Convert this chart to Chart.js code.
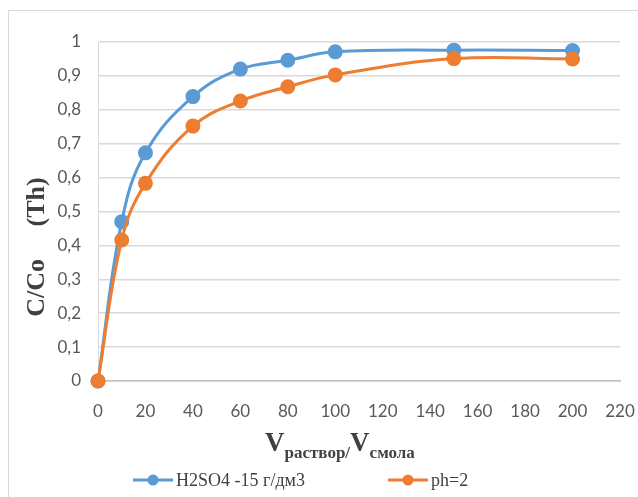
<!DOCTYPE html>
<html>
<head>
<meta charset="utf-8">
<script src="https://cdn.jsdelivr.net/npm/chart.js@4.4.1/dist/chart.umd.min.js"></script>
<style>
  html, body { margin: 0; padding: 0; background: #fff; }
</style>
</head>
<body>
<canvas id="myChart" width="638" height="497"></canvas>
<script>
// values
var xValues = [0, 10, 20, 40, 60, 80, 100, 150, 200]
var h2so4Values = [0, 0.47, 0.673, 0.839, 0.92, 0.946, 0.971, 0.976, 0.975]
var phValues = [0, 0.416, 0.583, 0.752, 0.826, 0.868, 0.903, 0.951, 0.95]
var seriesNames = ['H2SO4 -15 г/дм3', 'ph=2']
var seriesColors = ['#5B9BD5', '#ED7D31']
var yTitle = 'C/Co     (Th)'
var xTitleParts = ['V', 'раствор', '/', 'V', 'смола']

function toPoints(ys) {
    return xValues.map(function (x, i) { return { x: x, y: ys[i] } })
}

var extras = {
    id: 'extras',
    beforeDraw: function (chart) {
        var ctx = chart.ctx
        ctx.save()
        ctx.strokeStyle = '#d9d9d9'
        ctx.lineWidth = 1
        ctx.strokeRect(8.5, 10.5, 640, 500)
        ctx.restore()
    },
    afterDraw: function (chart) {
        var ctx = chart.ctx
        ctx.save()
        // y title
        ctx.fillStyle = '#404040'
        ctx.font = 'bold 26px "Liberation Serif"'
        ctx.textAlign = 'center'
        ctx.textBaseline = 'middle'
        ctx.translate(37, 247)
        ctx.rotate(-Math.PI / 2)
        ctx.fillText(yTitle, 0, 0)
        ctx.restore()

        // x title with subscripts
        ctx.save()
        ctx.fillStyle = '#404040'
        ctx.textAlign = 'left'
        ctx.textBaseline = 'alphabetic'
        var x = 265
        for (var i = 0; i < xTitleParts.length; i++) {
            var big = xTitleParts[i] == 'V'
            ctx.font = big ? 'bold 27px "Liberation Serif"' : 'bold 17px "Liberation Serif"'
            ctx.fillText(xTitleParts[i], x, big ? 451 : 458)
            x += ctx.measureText(xTitleParts[i]).width
        }
        ctx.restore()

        // legend
        ctx.save()
        ctx.font = '18px "Liberation Serif"'
        ctx.textBaseline = 'middle'
        var starts = [133, 388]
        var ly = 480
        for (var k = 0; k < seriesNames.length; k++) {
            var lx = starts[k]
            ctx.strokeStyle = seriesColors[k]
            ctx.lineWidth = 3
            ctx.beginPath()
            ctx.moveTo(lx, ly)
            ctx.lineTo(lx + 40, ly)
            ctx.stroke()
            ctx.fillStyle = seriesColors[k]
            ctx.beginPath()
            ctx.arc(lx + 20, ly, 5.5, 0, Math.PI * 2)
            ctx.fill()
            ctx.fillStyle = '#404040'
            ctx.fillText(seriesNames[k], lx + 43, ly + 1)
        }
        ctx.restore()
    }
}

var chart = new Chart('myChart', {
    type: 'line',
    data: {
        datasets: [{
            label: seriesNames[0],
            data: toPoints(h2so4Values),
            borderColor: seriesColors[0],
            backgroundColor: seriesColors[0],
            borderWidth: 3,
            pointRadius: 6,
            pointHoverRadius: 6,
            tension: 0.4,
            clip: false,
            order: 1
        }, {
            label: seriesNames[1],
            data: toPoints(phValues),
            borderColor: seriesColors[1],
            backgroundColor: seriesColors[1],
            borderWidth: 3,
            pointRadius: 6,
            pointHoverRadius: 6,
            tension: 0.4,
            clip: false,
            order: 0
        }]
    },
    options: {
        responsive: false,
        animation: false,
        layout: { padding: { top: 42, right: 0, left: 0, bottom: 0 } },
        plugins: {
            legend: { display: false },
            tooltip: { enabled: false }
        },
        scales: {
            x: {
                type: 'linear',
                min: 0,
                max: 220,
                afterFit: function (scale) {
                    scale.height = 116
                    scale.paddingLeft = 0
                    scale.paddingRight = 18
                },
                grid: { display: false, drawTicks: false },
                border: { display: true, color: '#bfbfbf', width: 1.5 },
                ticks: {
                    stepSize: 20,
                    padding: 20,
                    color: '#595959',
                    font: { family: 'Lato', size: 17 }
                }
            },
            y: {
                min: 0,
                max: 1,
                afterFit: function (scale) { scale.width = 98 },
                grid: { color: '#d9d9d9', lineWidth: 1.5, drawTicks: false },
                border: { display: true, color: '#d9d9d9', width: 1 },
                ticks: {
                    stepSize: 0.1,
                    padding: 17,
                    color: '#595959',
                    font: { family: 'Lato', size: 17 },
                    callback: function (v) {
                        return (Math.round(v * 10) / 10).toString().replace('.', ',')
                    }
                }
            }
        }
    },
    plugins: [extras]
})
</script>
</body>
</html>
